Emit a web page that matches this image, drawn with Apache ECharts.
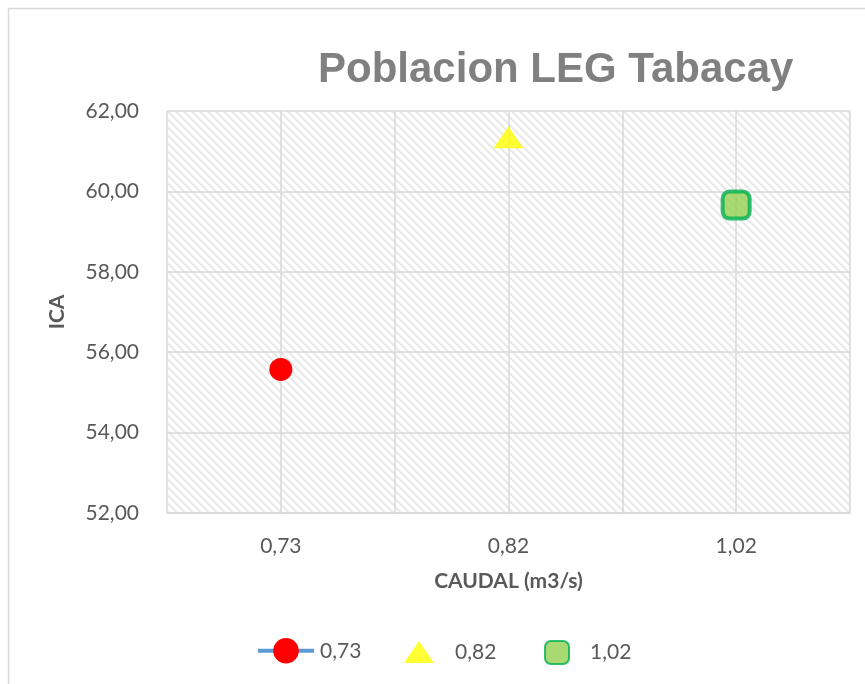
<!DOCTYPE html>
<html>
<head>
<meta charset="utf-8">
<script src="https://cdn.jsdelivr.net/npm/echarts@6/dist/echarts.min.js"></script>
<style>
  html, body { margin: 0; padding: 0; background: #fff; }
  #chart { width: 865px; height: 684px; }
</style>
</head>
<body>
<div id="chart"></div>
<script>
// categories on the x axis (caudal) and the ICA value of each one
const caudal = ['0,73', '0,82', '1,02']
const ica = [55.57, 61.35, 59.66]
const yTicks = [52, 54, 56, 58, 60, 62]

// diagonal hatch used by Excel as plot area fill
const hatch = (() => {
  const c = document.createElement('canvas')
  c.width = 8; c.height = 8
  const ctx = c.getContext('2d')
  const img = ctx.createImageData(8, 8)
  const shade = [230, 232, 246, 255, 255, 255, 255, 246]
  for (let y = 0; y < 8; y++) {
    for (let x = 0; x < 8; x++) {
      const d = ((x - y) % 8 + 8) % 8
      const v = shade[d]
      const i = (y * 8 + x) * 4
      img.data[i] = v; img.data[i + 1] = v; img.data[i + 2] = v; img.data[i + 3] = 255
    }
  }
  ctx.putImageData(img, 0, 0)
  return c
})()

const fmt = v => v.toFixed(2).replace('.', ',')
const txt = '#595959'
const font = 'Lato, "Open Sans", sans-serif'

const option = {
  animation: false,
  backgroundColor: '#fff',
  textStyle: { fontFamily: font },
  graphic: [{
    type: 'polyline',
    shape: { points: [[8.5, 700], [8.5, 8.5], [880, 8.5]] },
    style: { stroke: '#d9d9d9', lineWidth: 1.5, fill: null },
    silent: true
  }],
  title: {
    text: 'Poblacion LEG Tabacay',
    left: 313,
    top: 44,
    textStyle: { fontFamily: '"Liberation Sans", Arial, sans-serif', fontWeight: 'bold', fontSize: 42, color: '#808080' }
  },
  grid: {
    left: 167, right: 15, top: 111, bottom: 171,
    show: true,
    borderWidth: 0,
    backgroundColor: { image: hatch, repeat: 'repeat' }
  },
  xAxis: {
    type: 'value',
    min: 0, max: 3, interval: 0.5,
    name: 'CAUDAL (m3/s)',
    nameLocation: 'middle',
    nameGap: 58,
    nameTextStyle: { color: txt, fontSize: 21, fontWeight: 'bold', fontFamily: font },
    axisLine: { show: true, lineStyle: { color: '#d9d9d9', width: 1.5 } },
    axisTick: { show: false },
    axisLabel: {
      color: txt, fontSize: 21, margin: 23,
      formatter: v => (Math.abs(v % 1 - 0.5) < 1e-6 ? caudal[Math.floor(v)] : '')
    },
    splitLine: { show: true, lineStyle: { color: '#d9d9d9', width: 1.5 } }
  },
  yAxis: {
    type: 'value',
    min: yTicks[0], max: yTicks[yTicks.length - 1], interval: 2,
    name: 'ICA',
    nameLocation: 'middle',
    nameGap: 99,
    nameTextStyle: { color: txt, fontSize: 21, fontWeight: 'bold', fontFamily: font },
    axisLine: { show: false },
    axisTick: { show: false },
    axisLabel: { color: txt, fontSize: 21, margin: 28, formatter: fmt },
    splitLine: { show: true, lineStyle: { color: '#d9d9d9', width: 1.5 } }
  },
  legend: [
    {
      data: [caudal[0]], left: 251, top: 633, itemWidth: 56, itemHeight: 32,
      lineStyle: { width: 4 },
      textStyle: { color: txt, fontSize: 21, padding: [0, 0, 0, 1] }
    },
    {
      data: [caudal[1]], left: 399, top: 636, itemWidth: 30, itemHeight: 22,
      textStyle: { color: txt, fontSize: 21, padding: [0, 0, 0, 16] }
    },
    {
      data: [caudal[2]], left: 539, top: 635, itemWidth: 24, itemHeight: 23,
      textStyle: { color: txt, fontSize: 21, padding: [0, 0, 0, 16] }
    }
  ],
  series: [
    {
      name: caudal[0],
      type: 'line',
      data: [[0.5, ica[0]]],
      symbol: 'circle',
      symbolSize: 23,
      itemStyle: { color: '#ff0000' },
      lineStyle: { color: '#5b9bd5', width: 4 }
    },
    {
      name: caudal[1],
      type: 'scatter',
      data: [[1.5, ica[1]]],
      symbol: 'triangle',
      symbolSize: [30, 22],
      itemStyle: { color: '#ffff00' }
    },
    {
      name: caudal[2],
      type: 'scatter',
      data: [[2.5, ica[2]]],
      symbol: 'roundRect',
      symbolSize: 27,
      itemStyle: { color: '#92d050', borderColor: '#00b050', borderWidth: 4 }
    }
  ]
}

const chart = echarts.init(document.getElementById('chart'))
chart.setOption(option)
</script>
</body>
</html>
